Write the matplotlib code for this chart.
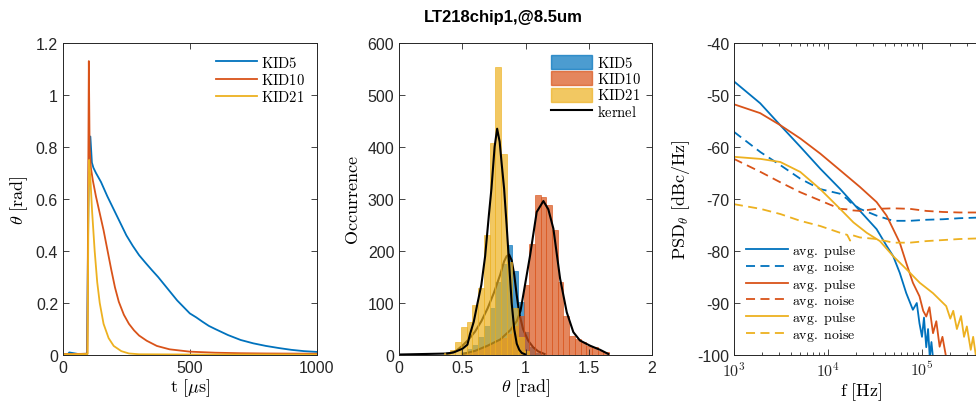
import numpy as np
import matplotlib
matplotlib.use('Agg')
import matplotlib.pyplot as plt
from matplotlib.lines import Line2D
from matplotlib.patches import Patch
from matplotlib.ticker import FormatStrFormatter, FixedLocator, FuncFormatter, LogLocator, NullFormatter

plt.rcParams['font.family'] = ['Liberation Sans', 'DejaVu Sans']
plt.rcParams['mathtext.fontset'] = 'cm'
plt.rcParams['axes.unicode_minus'] = False

# MATLAB 默认配色
c_blue = '#0072BD'
c_red = '#D95319'
c_yel = '#EDB120'

kids = ['KID5', 'KID10', 'KID21']

# ---- 脉冲波形 ----
t5 = [0, 20, 25, 60, 95, 99, 102, 108, 114, 120, 130, 150, 175, 200, 225, 250, 275, 300, 325, 350,
      375, 400, 425, 450, 475, 500, 525, 550, 575, 600, 650, 700, 750, 800, 850, 900, 950, 1000]
th5 = [0.004, 0.004, 0.01, 0.004, 0.005, 0.45, 0.75, 0.84, 0.74, 0.72, 0.70, 0.665, 0.61, 0.56, 0.51,
       0.46, 0.42, 0.384, 0.355, 0.327, 0.30, 0.27, 0.24, 0.21, 0.185, 0.16, 0.145, 0.128, 0.112, 0.10,
       0.077, 0.058, 0.045, 0.035, 0.027, 0.02, 0.015, 0.012]

t10 = [0, 50, 96, 99, 102, 105, 110, 118, 130, 145, 160, 175, 190, 205, 220, 240, 260, 280, 300,
       330, 370, 420, 500, 600, 700, 800, 1000]
th10 = [0.004, 0.004, 0.005, 0.55, 1.13, 0.80, 0.72, 0.67, 0.61, 0.545, 0.48, 0.405, 0.33, 0.26, 0.205,
        0.155, 0.12, 0.095, 0.075, 0.055, 0.035, 0.022, 0.013, 0.009, 0.007, 0.006, 0.005]

t21 = [0, 50, 97, 100, 103, 108, 115, 125, 135, 145, 160, 180, 200, 230, 260, 300, 500, 1000]
th21 = [0.003, 0.003, 0.004, 0.5, 0.75, 0.68, 0.55, 0.40, 0.28, 0.20, 0.12, 0.065, 0.035, 0.015,
        0.006, 0.003, 0.002, 0.002]

# ---- 直方图 (公共分箱) ----
bin_w = 0.045
edges = np.round(0.355 + bin_w * np.arange(30), 3)
cnt5 = [0, 0, 0, 5, 12, 20, 35, 55, 90, 140, 175, 211, 161, 102, 45, 15, 4, 0, 0, 0,
        0, 0, 0, 0, 0, 0, 0, 0, 0]
cnt10 = [0, 0, 0, 3, 6, 10, 14, 18, 22, 28, 33, 40, 55, 76, 134, 214, 307, 304, 289, 240,
         141, 76, 37, 31, 25, 18, 15, 8, 5]
cnt21 = [3, 10, 26, 54, 64, 96, 128, 230, 407, 553, 387, 178, 90, 35, 8, 0, 0, 0, 0, 0,
         0, 0, 0, 0, 0, 0, 0, 0, 0]

# 核密度曲线
k5_x = [0.0, 0.2, 0.40, 0.45, 0.5, 0.55, 0.6, 0.65, 0.7, 0.75, 0.8, 0.83, 0.85, 0.87, 0.89, 0.91,
        0.93, 0.95, 0.98, 1.02, 1.06, 1.1, 1.15]
k5_y = [1, 2, 3, 8, 18, 30, 45, 65, 90, 120, 155, 180, 190, 193, 182, 155, 115, 80, 50, 28, 15, 7, 2]
k10_x = [0.5, 0.6, 0.7, 0.8, 0.88, 0.93, 0.96, 0.99, 1.036, 1.088, 1.141, 1.18, 1.22, 1.273, 1.326,
         1.378, 1.43, 1.51, 1.59, 1.655]
k10_y = [2, 8, 18, 30, 48, 65, 85, 127, 192, 275, 296, 280, 243, 147, 82, 44, 28, 18, 10, 2]
k21_x = [0.38, 0.43, 0.5, 0.54, 0.56, 0.59, 0.62, 0.65, 0.68, 0.71, 0.73, 0.755, 0.775, 0.795,
         0.81, 0.83, 0.85, 0.87, 0.89, 0.91, 0.93, 0.95, 0.97, 1.0]
k21_y = [3, 5, 12, 20, 40, 64, 100, 135, 190, 270, 320, 400, 435, 410, 370, 320, 250, 175, 100,
         50, 22, 10, 4, 1]

# ---- 功率谱 ----
fp5 = [1000, 1900, 3100, 5100, 8300, 13500, 21900, 32900, 42000, 49400, 58000, 68000, 80000, 88000,
       94000, 100000, 105000, 111000, 116000, 121000, 126000, 135000, 150000, 200000, 300000, 500000]
pp5 = [-47.4, -51.6, -55.8, -60.0, -64.2, -68.1, -72.3, -75.8, -79.0, -81.0, -84.2, -88.1, -91.3,
       -90.0, -93.9, -96.5, -92.8, -98.5, -95.0, -100.5, -97.5, -103, -106, -110, -115, -120]
fp10 = [1000, 1900, 3100, 5100, 8300, 13500, 21900, 32900, 42000, 49400, 58000, 68000, 80000, 94000,
        103000, 111000, 120000, 131000, 142000, 154000, 165000, 181000, 220000, 300000, 500000]
pp10 = [-51.8, -53.5, -55.8, -58.4, -61.3, -64.5, -67.7, -70.6, -73.2, -75.8, -78.4, -82.3, -86.1,
        -88.7, -91.5, -92.6, -90.8, -95.8, -93.5, -98.4, -96.5, -100.5, -104, -108, -114]
fp21 = [1000, 1915, 3117, 5070, 8260, 13460, 18640, 25800, 35700, 49400, 68300, 94500, 130800,
        181000, 200000, 215000, 235000, 260000, 280000, 300000, 330000, 350000, 380000, 420000, 500000]
pp21 = [-61.9, -62.3, -62.9, -64.8, -68.1, -71.9, -74.5, -76.5, -78.1, -81.0, -83.5, -86.1, -88.1,
        -90.6, -93.0, -91.5, -95.0, -92.5, -96.5, -94.5, -99.0, -96.5, -101, -99, -104]

fn = [1000, 1915, 3117, 5070, 8260, 13460, 16000, 17200, 18500, 21880, 32870, 49400, 74300, 111200,
      167200, 250500, 369000, 500000]
pn5 = [-57.1, -61.0, -63.5, -66.1, -68.1, -69.0, -70.0, -70.6, -71.0, -71.9, -73.2, -74.2, -74.2,
       -74.0, -73.9, -73.7, -73.6, -73.5]
pn10 = [-62.3, -64.8, -66.8, -68.7, -70.3, -71.9, -72.0, -72.1, -72.2, -72.3, -71.9, -71.8, -71.9,
        -72.3, -72.5, -72.6, -72.6, -72.6]
pn21 = [-71.0, -71.9, -72.9, -74.2, -75.2, -76.5, -76.9, -78.0, -77.0, -77.4, -77.7, -78.4, -78.4,
        -78.1, -77.9, -77.7, -77.6, -77.5]

fig = plt.figure(figsize=(9.76, 4.14), dpi=100)
ax1 = fig.add_axes([0.0645, 0.140, 0.260, 0.754])
ax2 = fig.add_axes([0.409, 0.140, 0.259, 0.754])
ax3 = fig.add_axes([0.752, 0.140, 0.260, 0.754])

fig.text(0.516, 0.957, 'LT218chip1,@8.5um', ha='center', va='center', fontsize=12, fontweight='bold')

tick_fs = 11.5
lab_fs = 13
leg_fs = 10.5


def style(ax):
    for s in ax.spines.values():
        s.set_color('#262626')
        s.set_linewidth(0.7)
    ax.tick_params(direction='in', top=True, right=True, labelsize=tick_fs, colors='#262626',
                   length=4, width=0.6)


# 子图1
ax1.plot(t5, th5, color=c_blue, lw=1.3, label=r'$\mathrm{KID5}$')
ax1.plot(t10, th10, color=c_red, lw=1.3, label=r'$\mathrm{KID10}$')
ax1.plot(t21, th21, color=c_yel, lw=1.3, label=r'$\mathrm{KID21}$')
ax1.set_xlim(0, 1000)
ax1.set_ylim(0, 1.2)
ax1.set_xticks([0, 500, 1000])
ax1.set_yticks([0, 0.2, 0.4, 0.6, 0.8, 1.0, 1.2])
ax1.yaxis.set_major_formatter(FormatStrFormatter('%g'))
ax1.set_xlabel(r'$\mathrm{t}\ [\mu\mathrm{s}]$', fontsize=lab_fs, labelpad=1)
ax1.set_ylabel(r'$\theta\ \mathrm{[rad]}$', fontsize=lab_fs, labelpad=4)
ax1.legend(loc='upper right', frameon=False, fontsize=leg_fs, handlelength=2.8,
           handletextpad=0.3, labelspacing=0.15, borderaxespad=0.4)
style(ax1)

# 子图2: 直方图与核密度按顺序叠放
left = edges[:-1]
handles = []
z = 1.0
for cnt, kx, ky, col, name in [(cnt5, k5_x, k5_y, c_blue, 'KID5'),
                               (cnt10, k10_x, k10_y, c_red, 'KID10'),
                               (cnt21, k21_x, k21_y, c_yel, 'KID21')]:
    ax2.bar(left, cnt, width=bin_w, align='edge', color=col, alpha=0.7, edgecolor=col,
            linewidth=0.6, zorder=z)
    ax2.plot(kx, ky, color='black', lw=1.5, zorder=z + 0.1)
    handles.append(Patch(facecolor=col, alpha=0.7, edgecolor=col, label=r'$\mathrm{%s}$' % name))
    z += 0.2
handles.append(Line2D([], [], color='black', lw=1.5, label=r'$\mathrm{kernel}$'))
ax2.set_xlim(0, 2)
ax2.set_ylim(0, 600)
ax2.set_xticks([0, 0.5, 1, 1.5, 2])
ax2.xaxis.set_major_formatter(FormatStrFormatter('%g'))
ax2.set_yticks(range(0, 601, 100))
ax2.set_xlabel(r'$\theta\ \mathrm{[rad]}$', fontsize=lab_fs, labelpad=1)
ax2.set_ylabel(r'$\mathrm{Occurrence}$', fontsize=lab_fs, labelpad=4)
ax2.legend(handles=handles, loc='upper right', frameon=False, fontsize=leg_fs, handlelength=2.8,
           handleheight=1.1, handletextpad=0.3, labelspacing=0.1, borderaxespad=0.4)
style(ax2)

# 子图3
ax3.semilogx(fp5, pp5, color=c_blue, lw=1.3, label=r'$\mathrm{avg.\ pulse}$')
ax3.semilogx(fn, pn5, color=c_blue, lw=1.3, ls=(0, (5, 3)), label=r'$\mathrm{avg.\ noise}$')
ax3.semilogx(fp10, pp10, color=c_red, lw=1.3, label=r'$\mathrm{avg.\ pulse}$')
ax3.semilogx(fn, pn10, color=c_red, lw=1.3, ls=(0, (5, 3)), label=r'$\mathrm{avg.\ noise}$')
ax3.semilogx(fp21, pp21, color=c_yel, lw=1.3, label=r'$\mathrm{avg.\ pulse}$')
ax3.semilogx(fn, pn21, color=c_yel, lw=1.3, ls=(0, (5, 3)), label=r'$\mathrm{avg.\ noise}$')
ax3.set_xlim(1e3, 5e5)
ax3.set_ylim(-100, -40)
ax3.set_yticks(range(-100, -39, 10))
ax3.xaxis.set_major_locator(FixedLocator([1e3, 1e4, 1e5]))
ax3.xaxis.set_major_formatter(FuncFormatter(lambda v, p: r'$\mathsf{10^{%d}}$' % round(np.log10(v))))
ax3.xaxis.set_minor_locator(LogLocator(base=10, subs=np.arange(2, 10)))
ax3.xaxis.set_minor_formatter(NullFormatter())
ax3.set_xlabel(r'$\mathrm{f\ [Hz]}$', fontsize=lab_fs, labelpad=1)
ax3.set_ylabel(r'$\mathrm{PSD}_\theta\ \mathrm{[dBc/Hz]}$', fontsize=lab_fs, labelpad=4)
ax3.legend(loc='lower left', frameon=False, fontsize=10, handlelength=3.0,
           handletextpad=0.3, labelspacing=0.02, borderaxespad=0.5)
style(ax3)
ax3.tick_params(which='minor', direction='in', top=True, length=2, width=0.5)

fig.savefig('out.png', dpi=100)
